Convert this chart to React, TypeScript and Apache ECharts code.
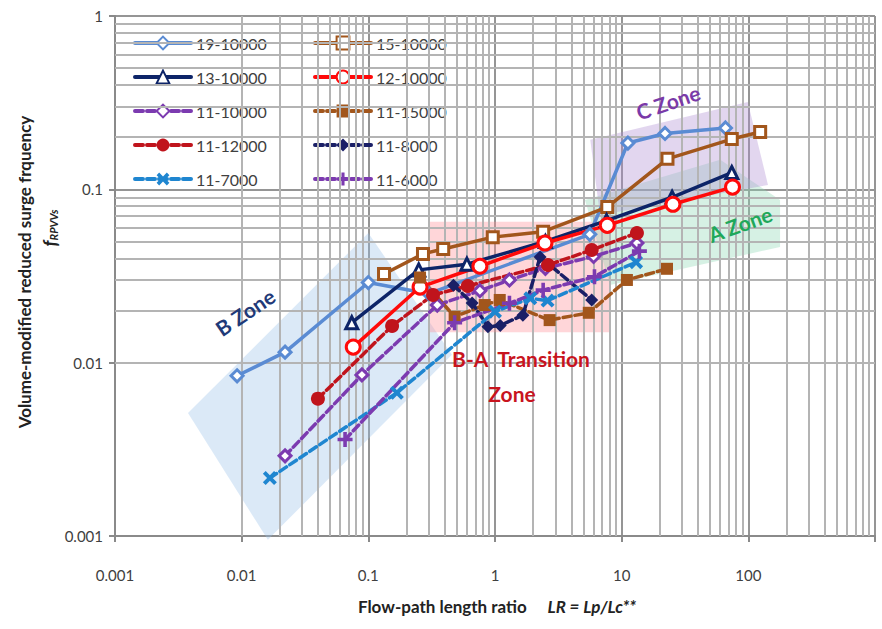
import React, { useEffect, useRef } from 'react';
import * as echarts from 'echarts';

// ---- tick labels ----
const xTickValues = [0.001, 0.01, 0.1, 1, 10, 100, 1000];
const yTickValues = [0.001, 0.01, 0.1, 1];

// ---- series (x = LR, y = fRPVVs) ----
const s19_10000 = [[0.0092, 0.0084], [0.022, 0.0115], [0.1, 0.029], [0.3, 0.025], [5.6, 0.055], [11.2, 0.185], [22, 0.21], [66, 0.226]];
const s15_10000 = [[0.133, 0.0325], [0.27, 0.0424], [0.39, 0.0453], [0.96, 0.053], [2.4, 0.057], [7.7, 0.079], [23, 0.15], [74, 0.195], [124, 0.214]];
const s13_10000 = [[0.074, 0.017], [0.25, 0.0343], [0.6, 0.037], [2.5, 0.05], [7.6, 0.066], [25, 0.09], [74, 0.125]];
const s12_10000 = [[0.076, 0.0123], [0.256, 0.0273], [0.76, 0.036], [2.48, 0.049], [7.7, 0.062], [25.4, 0.082], [75, 0.103]];
const s11_10000 = [[0.022, 0.0029], [0.089, 0.0085], [0.35, 0.0215], [0.76, 0.026], [1.3, 0.03], [2.5, 0.035], [6, 0.041], [13.2, 0.049]];
const s11_15000 = [[0.256, 0.031], [0.48, 0.0184], [0.83, 0.0215], [1.09, 0.023], [2.7, 0.0176], [5.5, 0.0194], [11, 0.03], [22.8, 0.0348]];
const s11_12000 = [[0.04, 0.0062], [0.154, 0.0163], [0.324, 0.0246], [0.61, 0.0277], [2.62, 0.0366], [5.8, 0.0447], [13.2, 0.056]];
const s11_8000 = [[0.47, 0.028], [0.66, 0.0221], [0.88, 0.0161], [1.1, 0.0164], [1.66, 0.0188], [2.27, 0.0407], [5.8, 0.023]];
const s11_7000 = [[0.0167, 0.00216], [0.168, 0.0067], [1.0, 0.0197], [1.9, 0.0235], [2.6, 0.0228], [13, 0.038]];
const s11_6000 = [[0.0655, 0.0036], [0.48, 0.017], [1.3, 0.022], [2.4, 0.0262], [6.1, 0.0313], [13.8, 0.044]];

// ---- zones (polygons in data coordinates) ----
const zoneB = [[0.00377, 0.00512], [0.1, 0.056], [0.457, 0.0111], [0.0161, 0.00095]];
const zoneBA = [[0.296, 0.065], [8.09, 0.065], [8.09, 0.015], [0.296, 0.015]];
const zoneC = [[5.65, 0.193], [99, 0.319], [143, 0.106], [6.74, 0.0712]];
const zoneA = [[5.13, 0.0869], [60, 0.148], [178, 0.0869], [178, 0.0465], [8.09, 0.0281]];

const FONT = 'Lato, "Open Sans", sans-serif';
const X_SYM = 'path://M2,0 L5,3 L8,0 L10,2 L7,5 L10,8 L8,10 L5,7 L2,10 L0,8 L3,5 L0,2 Z';
const PLUS_SYM = 'path://M3.8,0 H6.2 V3.8 H10 V6.2 H6.2 V10 H3.8 V6.2 H0 V3.8 H3.8 Z';

function minorValues(from: number, to: number) {
  const out: number[] = [];
  for (let d = from; d < to; d++) {
    for (let k = 2; k <= 9; k++) out.push(+(k * Math.pow(10, d)).toPrecision(3));
  }
  return out;
}

type SDef = { name: string; data: number[][]; color: string; dashed: boolean; symbol: string; size: number; hollow: boolean };
const seriesDefs: SDef[] = [
  { name: '19-10000', data: s19_10000, color: '#5a8bd3', dashed: false, symbol: 'diamond', size: 12, hollow: true },
  { name: '15-10000', data: s15_10000, color: '#a2561c', dashed: false, symbol: 'rect', size: 11, hollow: true },
  { name: '13-10000', data: s13_10000, color: '#0d2468', dashed: false, symbol: 'triangle', size: 12, hollow: true },
  { name: '12-10000', data: s12_10000, color: '#ff0a0a', dashed: false, symbol: 'circle', size: 14, hollow: true },
  { name: '11-10000', data: s11_10000, color: '#7c3bb0', dashed: true, symbol: 'diamond', size: 12, hollow: true },
  { name: '11-15000', data: s11_15000, color: '#a2561c', dashed: true, symbol: 'rect', size: 12, hollow: false },
  { name: '11-12000', data: s11_12000, color: '#c0141c', dashed: true, symbol: 'circle', size: 14, hollow: false },
  { name: '11-8000', data: s11_8000, color: '#1a1f66', dashed: true, symbol: 'diamond', size: 13, hollow: false },
  { name: '11-7000', data: s11_7000, color: '#1f86d0', dashed: true, symbol: X_SYM, size: 14, hollow: false },
  { name: '11-6000', data: s11_6000, color: '#7c3bb0', dashed: true, symbol: PLUS_SYM, size: 15, hollow: false },
];

const zones = [
  { pts: zoneB, fill: 'rgba(150,190,232,0.34)' },
  { pts: zoneBA, fill: 'rgba(255,140,150,0.36)' },
  { pts: zoneA, fill: 'rgba(140,215,180,0.36)' },
  { pts: zoneC, fill: 'rgba(175,140,210,0.36)' },
];

const fmt = (v: number) => (v >= 1000 ? '' : String(+v.toPrecision(3)));

export default function App() {
  const ref = useRef<HTMLDivElement>(null);
  useEffect(() => {
    if (!ref.current) return;
    const chart = echarts.init(ref.current, undefined, { renderer: 'svg' });
    const xMinor = minorValues(-3, 3);
    const yMinor = minorValues(-3, 0);
    const lineSeries = seriesDefs.map((d) => ({
      type: 'line',
      name: d.name,
      data: d.data,
      symbol: d.symbol,
      symbolSize: d.size,
      showAllSymbol: true,
      z: 5,
      lineStyle: { color: d.color, width: 3.5, type: d.dashed ? [8, 4] : 'solid', cap: 'round' },
      itemStyle: d.hollow
        ? { color: '#ffffff', borderColor: d.color, borderWidth: 3 }
        : { color: d.color, borderColor: d.color, borderWidth: 0 },
      emphasis: { disabled: true },
    }));
    const legendCommon = {
      orient: 'vertical',
      top: 30,
      itemWidth: 56,
      itemHeight: 16,
      itemGap: 18,
      selectedMode: false,
      lineStyle: { width: 4 },
      textStyle: { fontSize: 16, color: '#404040', fontFamily: FONT },
    };
    const option: any = {
      animation: false,
      backgroundColor: '#ffffff',
      grid: { left: 115, right: 7, top: 16, bottom: 93 },
      legend: [
        { ...legendCommon, left: 128, data: seriesDefs.filter((_, i) => i % 2 === 0).map((d) => d.name) },
        { ...legendCommon, left: 308, data: seriesDefs.filter((_, i) => i % 2 === 1).map((d) => d.name) },
      ],
      xAxis: {
        type: 'log',
        logBase: 10,
        min: xTickValues[0],
        max: xTickValues[xTickValues.length - 1],
        axisLine: { show: true, lineStyle: { color: '#8a8a8a', width: 2 } },
        axisTick: { show: true, length: 6, lineStyle: { color: '#8a8a8a', width: 2 } },
        axisLabel: { formatter: fmt, fontSize: 15, color: '#404040', fontFamily: FONT, margin: 31 },
        splitLine: { show: true, lineStyle: { color: '#959595', width: 2 } },
      },
      yAxis: {
        type: 'log',
        logBase: 10,
        min: yTickValues[0],
        max: yTickValues[yTickValues.length - 1],
        axisLine: { show: true, lineStyle: { color: '#8a8a8a', width: 2 } },
        axisTick: { show: true, length: 6, lineStyle: { color: '#8a8a8a', width: 2 } },
        axisLabel: { formatter: fmt, fontSize: 15, color: '#404040', fontFamily: FONT, margin: 12 },
        splitLine: { show: true, lineStyle: { color: '#959595', width: 2 } },
      },
      series: [
        {
          type: 'line',
          name: '__grid',
          data: [],
          silent: true,
          z: 1,
          markLine: {
            silent: true,
            symbol: ['none', 'none'],
            label: { show: false },
            lineStyle: { color: '#b4b4b4', width: 2, type: 'solid' },
            emphasis: { disabled: true },
            data: [...xMinor.map((v) => ({ xAxis: v })), ...yMinor.map((v) => ({ yAxis: v }))],
          },
        },
        {
          type: 'custom',
          name: '__zones',
          silent: true,
          z: 2,
          data: zones.map((z) => z.pts[0]),
          renderItem: (params: any, api: any) => {
            const zn = zones[params.dataIndex];
            return {
              type: 'polygon',
              shape: { points: zn.pts.map((p) => api.coord(p)) },
              style: { fill: zn.fill, stroke: 'none' },
            };
          },
        },
        ...lineSeries,
      ],
      graphic: [
        {
          type: 'text', x: 24, y: 272, rotation: Math.PI / 2,
          style: { text: 'Volume-modified reduced surge frquency', fontSize: 17, fontWeight: 'bold', fill: '#222', fontFamily: FONT, align: 'center', verticalAlign: 'middle' },
        },
        {
          type: 'text', x: 50, y: 228, rotation: Math.PI / 2,
          style: {
            text: '{f|f}{s|RPVVs}',
            align: 'center', verticalAlign: 'middle',
            rich: {
              f: { fontSize: 18, fontWeight: 'bold', fontStyle: 'italic', fill: '#222', fontFamily: FONT },
              s: { fontSize: 11, fontWeight: 'bold', fontStyle: 'italic', fill: '#222', fontFamily: FONT, padding: [6, 0, 0, 0] },
            },
          },
        },
        {
          type: 'text', x: 497, y: 606,
          style: {
            text: '{a|Flow-path length ratio     }{b|LR = Lp/Lc**}',
            align: 'center', verticalAlign: 'middle',
            rich: {
              a: { fontSize: 17, fontWeight: 'bold', fill: '#222', fontFamily: FONT },
              b: { fontSize: 17, fontWeight: 'bold', fontStyle: 'italic', fill: '#222', fontFamily: FONT },
            },
          },
        },
        {
          type: 'text', x: 245, y: 312, rotation: (34 * Math.PI) / 180, z: 10,
          style: { text: 'B Zone', fontSize: 21, fontWeight: 'bold', fill: '#1f3a78', fontFamily: FONT, align: 'center', verticalAlign: 'middle' },
        },
        {
          type: 'text', x: 668, y: 102, rotation: (19 * Math.PI) / 180, z: 10,
          style: { text: 'C Zone', fontSize: 21, fontWeight: 'bold', fill: '#7a3aa8', fontFamily: FONT, align: 'center', verticalAlign: 'middle' },
        },
        {
          type: 'text', x: 740, y: 224, rotation: (20 * Math.PI) / 180, z: 10,
          style: { text: 'A Zone', fontSize: 21, fontWeight: 'bold', fill: '#1fa85a', fontFamily: FONT, align: 'center', verticalAlign: 'middle' },
        },
        {
          type: 'text', x: 521, y: 358, z: 10,
          style: { text: 'B-A  Transition', fontSize: 21, fontWeight: 'bold', fill: '#c8141e', fontFamily: FONT, align: 'center', verticalAlign: 'middle' },
        },
        {
          type: 'text', x: 512, y: 393, z: 10,
          style: { text: 'Zone', fontSize: 21, fontWeight: 'bold', fill: '#c8141e', fontFamily: FONT, align: 'center', verticalAlign: 'middle' },
        },
      ],
    };
    chart.setOption(option);
    return () => chart.dispose();
  }, []);
  return <div ref={ref} style={{ position: 'fixed', left: 0, top: 0, width: 882, height: 629, background: '#fff' }} />;
}
